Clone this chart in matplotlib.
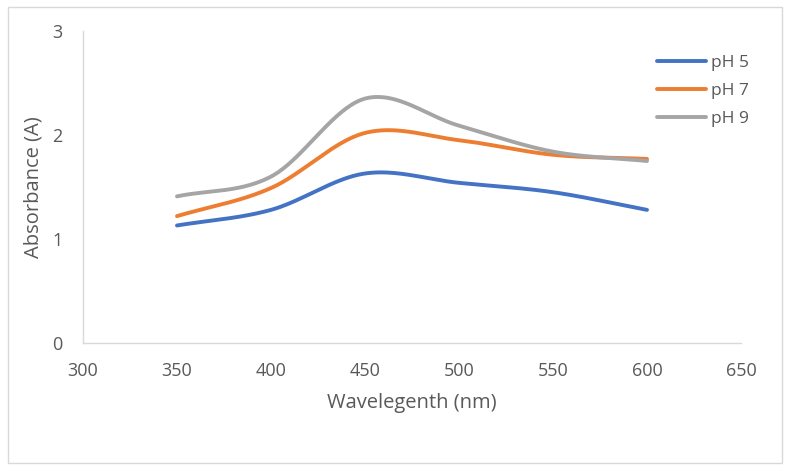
import numpy as np
import matplotlib
matplotlib.use("Agg")
import matplotlib.pyplot as plt
from matplotlib.patches import Rectangle

wavelength = [350, 400, 450, 500, 550, 600]
ph5 = [1.13, 1.28, 1.63, 1.54, 1.45, 1.28]
ph7 = [1.22, 1.49, 2.02, 1.95, 1.81, 1.77]
ph9 = [1.41, 1.60, 2.35, 2.09, 1.84, 1.75]
series_names = ["pH 5", "pH 7", "pH 9"]
colors = ["#4472C4", "#ED7D31", "#A5A5A5"]


def smooth(x, y, n=40):
    # Catmull-Rom style curve, close to Excel's "smoothed line"
    x = np.asarray(x, float)
    y = np.asarray(y, float)
    px = np.concatenate([[2 * x[0] - x[1]], x, [2 * x[-1] - x[-2]]])
    py = np.concatenate([[2 * y[0] - y[1]], y, [2 * y[-1] - y[-2]]])
    xs, ys = [], []
    t = np.linspace(0, 1, n)
    for i in range(1, len(px) - 2):
        p0, p1, p2, p3 = px[i - 1], px[i], px[i + 1], px[i + 2]
        q0, q1, q2, q3 = py[i - 1], py[i], py[i + 1], py[i + 2]
        # bezier control points
        c1x, c1y = p1 + (p2 - p0) / 6, q1 + (q2 - q0) / 6
        c2x, c2y = p2 - (p3 - p1) / 6, q2 - (q3 - q1) / 6
        bx = (1 - t) ** 3 * p1 + 3 * (1 - t) ** 2 * t * c1x + 3 * (1 - t) * t ** 2 * c2x + t ** 3 * p2
        by = (1 - t) ** 3 * q1 + 3 * (1 - t) ** 2 * t * c1y + 3 * (1 - t) * t ** 2 * c2y + t ** 3 * q2
        xs.extend(bx)
        ys.extend(by)
    return np.array(xs), np.array(ys)


plt.rcParams["font.family"] = ["Open Sans", "DejaVu Sans"]
text_color = "#595959"

fig = plt.figure(figsize=(7.91, 4.72), dpi=100)
ax = fig.add_axes([83 / 791, 1 - 343 / 472, (741 - 83) / 791, (343 - 31) / 472])

for name, vals, c in zip(series_names, [ph5, ph7, ph9], colors):
    sx, sy = smooth(wavelength, vals)
    ax.plot(sx, sy, color=c, lw=2.8, label=name, solid_capstyle="round")

ax.set_xlim(300, 650)
ax.set_ylim(0, 3)
ax.set_xticks(np.arange(300, 651, 50))
ax.set_yticks([0, 1, 2, 3])
for side in ["top", "right"]:
    ax.spines[side].set_visible(False)
for side in ["left", "bottom"]:
    ax.spines[side].set_color("#D9D9D9")
    ax.spines[side].set_linewidth(1)
ax.tick_params(length=0, labelsize=13, colors=text_color)
ax.tick_params(axis="y", pad=15)
ax.tick_params(axis="x", pad=14)
ax.set_xlabel("Wavelegenth (nm)", fontsize=14.5, color=text_color, labelpad=9)
ax.set_ylabel("Absorbance (A)", fontsize=14.5, color=text_color, labelpad=6)

leg = fig.legend(loc="upper left", bbox_to_anchor=(650 / 791, 1 - 48 / 472),
                 frameon=False, fontsize=12.5, handlelength=2.8,
                 labelspacing=0.68, handletextpad=0.3, borderaxespad=0)
for t in leg.get_texts():
    t.set_color(text_color)

fig.patches.append(Rectangle((8 / 791, 1 - 463 / 472), 774 / 791, 456 / 472,
                             transform=fig.transFigure, fill=False,
                             edgecolor="#D9D9D9", lw=1))

fig.savefig("out.png", dpi=100)
